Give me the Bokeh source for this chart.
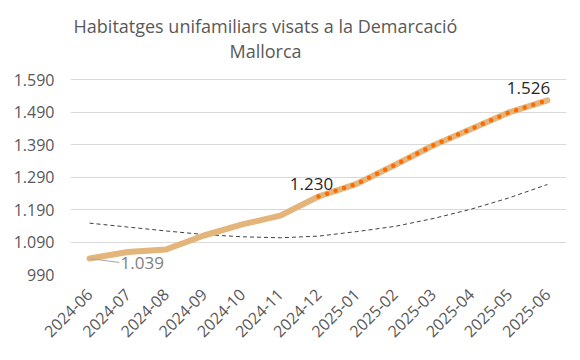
from bokeh.plotting import figure
from bokeh.models import ColumnDataSource, FactorRange, Range1d, FixedTicker, Label
from bokeh.core.properties import value
from bokeh.transform import dodge
from bokeh.embed import file_html
from bokeh.resources import INLINE

months = ["2024-06", "2024-07", "2024-08", "2024-09", "2024-10", "2024-11", "2024-12",
          "2025-01", "2025-02", "2025-03", "2025-04", "2025-05", "2025-06"]
values = [1039, 1059, 1067, 1110, 1144, 1171, 1230, 1269, 1327, 1387, 1438, 1489, 1526]
trend = [1148, 1136, 1124, 1113, 1106, 1103, 1108, 1122, 1138, 1162, 1191, 1226, 1267]
y_ticks = [990, 1090, 1190, 1290, 1390, 1490, 1590]
y_tick_labels = ["990", "1.090", "1.190", "1.290", "1.390", "1.490", "1.590"]
highlight_start = "2024-12"
title_lines = ["Habitatges unifamiliars visats a la Demarcació", "Mallorca"]

FONT = "Open Sans"
GREY = "#595959"

def fmt(v):
    return f"{v:,}".replace(",", ".")

# plot frame spans the full top of the canvas so the title (drawn as labels) is not clipped;
# the value axis keeps 600 units per 195 px, so the top of the frame sits above the 1.590 line
y_lo, y_hi = y_ticks[0], y_ticks[-1]
y_top = y_lo + (y_hi - y_lo) * 274 / 195

p = figure(width=572, height=352, output_backend="svg", toolbar_location=None,
           x_range=FactorRange(*months, range_padding=0), y_range=Range1d(y_lo, y_top),
           min_border_left=70, min_border_right=6, min_border_top=0, min_border_bottom=78,
           title=None)
p.outline_line_color = None
p.background_fill_color = "white"
p.border_fill_color = "white"

p.xgrid.grid_line_color = None
p.ygrid.grid_line_color = "#D9D9D9"
p.ygrid.grid_line_width = 1

p.yaxis.ticker = FixedTicker(ticks=y_ticks)
p.yaxis.major_label_overrides = {t: l for t, l in zip(y_ticks, y_tick_labels)}
for ax in (p.xaxis, p.yaxis):
    ax.axis_line_color = None
    ax.major_tick_line_color = None
    ax.minor_tick_line_color = None
    ax.major_tick_out = 0
    ax.major_label_text_font = FONT
    ax.major_label_text_color = GREY
    ax.major_label_text_font_size = "16px"
p.yaxis.major_label_standoff = 16
p.xaxis.major_label_orientation = 0.785398
p.xaxis.major_label_standoff = 17

src = ColumnDataSource(dict(m=months, v=values, t=trend))
p.line(x="m", y="t", source=src, line_color="#404040", line_width=1, line_dash="4 3")
p.line(x="m", y="v", source=src, line_color="#E3B57A", line_width=6, line_join="round", line_cap="round")

i0 = months.index(highlight_start)
hsrc = ColumnDataSource(dict(m=months[i0:], v=values[i0:]))
p.line(x="m", y="v", source=hsrc, line_color="#FF6A00", line_width=4.5, line_dash="0 9", line_cap="round")

# leader line for first label
lsrc = ColumnDataSource(dict(m=[months[0]], v=[values[0]], v2=[values[0] - 12]))
p.segment(x0="m", y0="v", x1=dodge("m", 0.78, range=p.x_range), y1="v2", source=lsrc,
          line_color="#A6A6A6", line_width=1)

# data labels (glyph offsets are screen px, y positive downward)
lab = ColumnDataSource(dict(
    m=[months[0], months[i0], months[-1]],
    v=[values[0], values[i0], values[-1]],
    txt=[fmt(values[0]), fmt(values[i0]), fmt(values[-1])],
    dx=[31, -7, -19], dy=[4, -13, -12],
    al=["left", "center", "center"],
    col=["#7F7F7F", "#262626", "#262626"],
))
p.text(x="m", y="v", text="txt", x_offset="dx", y_offset="dy", text_align="al",
       text_baseline="middle", text_color="col", text_font=value(FONT),
       text_font_size="17px", source=lab)

# title: two centred lines (screen units measured from the frame's bottom-left)
for txt, ty in zip(title_lines, [249, 224]):
    p.add_layout(Label(x=195, y=ty, x_units="screen", y_units="screen", text=txt,
                       text_align="center", text_baseline="alphabetic", text_font=FONT,
                       text_font_size="18px", text_color=GREY))

open("out.html", "w").write(file_html(p, INLINE))
